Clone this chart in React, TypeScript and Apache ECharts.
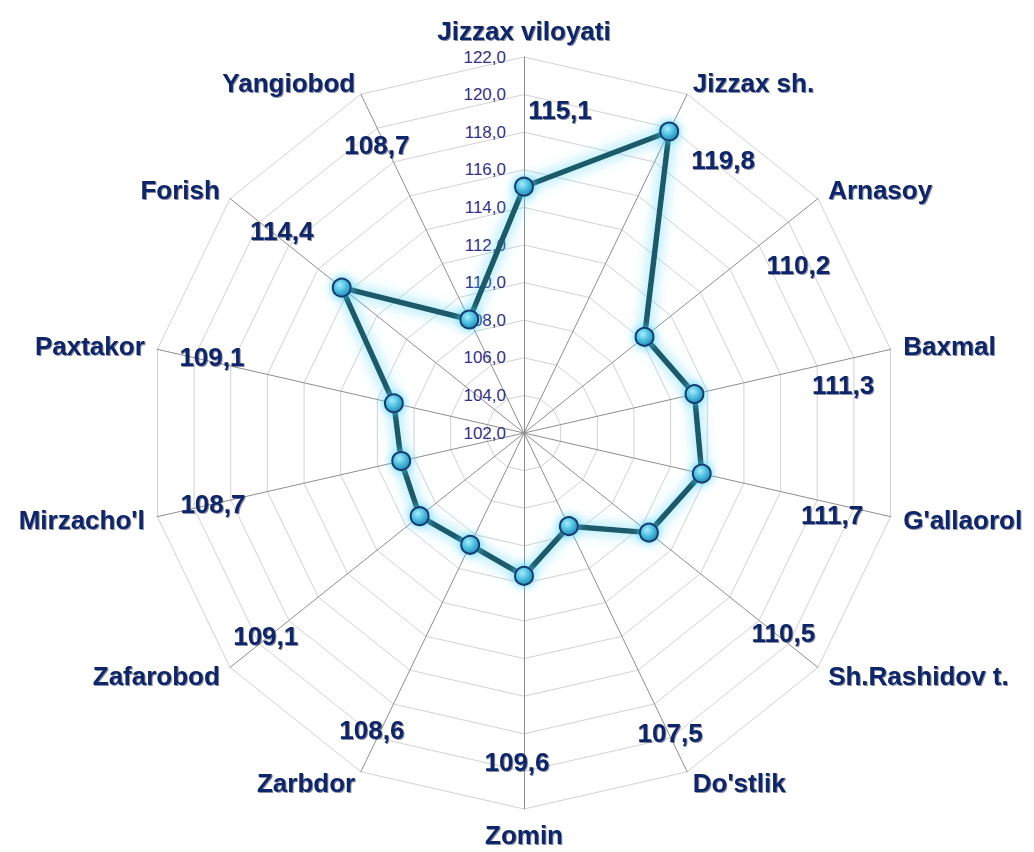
import React, { useEffect, useRef } from "react";
import * as echarts from "echarts";

// clockwise from the top
const INDICATORS = [
  "Jizzax viloyati",
  "Jizzax sh.",
  "Arnasoy",
  "Baxmal",
  "G'allaorol",
  "Sh.Rashidov t.",
  "Do'stlik",
  "Zomin",
  "Zarbdor",
  "Zafarobod",
  "Mirzacho'l",
  "Paxtakor",
  "Forish",
  "Yangiobod",
];
const VALUES = [115.1, 119.8, 110.2, 111.3, 111.7, 110.5, 107.5, 109.6, 108.6, 109.1, 108.7, 109.1, 114.4, 108.7];
const AXIS_MIN = 102;
const AXIS_MAX = 122;
const SPLITS = 10;

// radial level where the value captions sit, and small per-axis nudges (px)
const LABEL_LEVEL = 119.3;
const LABEL_NUDGE = [
  [36, 2], [58, 20], [20, 35], [2, 24], [-9, 10], [5, -3], [5, 7],
  [-7, 4], [-11, 4], [-4, 0], [6, -1], [5, -4], [12, 1], [-6, 5],
];

const FONT = 'Arial, "Liberation Sans", sans-serif';
const NAVY = "#11256a";
const fmt = (v: number) => v.toFixed(1).replace(".", ",");

// ECharts radar runs counter-clockwise: display order keeps the first axis on top
const ORDER = [0, ...INDICATORS.map((_, i) => i).slice(1).reverse()];

export default function App() {
  const ref = useRef<HTMLDivElement>(null);
  useEffect(() => {
    if (!ref.current) return;
    const chart = echarts.init(ref.current, null, { renderer: "svg" });

    const valueStyle = {
      fontFamily: FONT,
      fontSize: 26,
      fontWeight: "bold" as const,
      color: NAVY,
      textShadowColor: "rgba(0,10,60,0.45)",
      textShadowBlur: 1,
      textShadowOffsetX: 1,
      textShadowOffsetY: 1,
    };
    const rich: Record<string, any> = {};
    LABEL_NUDGE.forEach(([dx, dy], i) => {
      rich["n" + i] = {
        ...valueStyle,
        padding: [Math.max(0, 2 * dy), Math.max(0, -2 * dx), Math.max(0, -2 * dy), Math.max(0, 2 * dx)],
      };
    });

    const indicator = ORDER.map((k, d) => {
      const ind: any = { name: INDICATORS[k], min: AXIS_MIN, max: AXIS_MAX };
      if (d === 0) {
        ind.axisLabel = {
          show: true,
          color: "#33308a",
          fontFamily: FONT,
          fontSize: 17,
          margin: 18,
          formatter: (v: number) => fmt(Number(v)),
        };
      }
      return ind;
    });

    chart.setOption({
      animation: false,
      backgroundColor: "#ffffff",
      radar: {
        center: [524, 433],
        radius: 376,
        startAngle: 90,
        shape: "polygon",
        splitNumber: SPLITS,
        indicator,
        axisNameGap: 13,
        axisName: {
          color: NAVY,
          fontFamily: FONT,
          fontSize: 26,
          fontWeight: "bold",
          textShadowColor: "rgba(0,10,60,0.45)",
          textShadowBlur: 1,
          textShadowOffsetX: 1,
          textShadowOffsetY: 1,
        },
        axisLine: { lineStyle: { color: "#8e8e8e", width: 1 } },
        splitLine: { lineStyle: { color: "#d2d2d2", width: 1 } },
        splitArea: { show: false },
        axisTick: { show: false },
        axisLabel: { show: false },
      },
      series: [
        {
          type: "radar",
          silent: true,
          z: 3,
          symbol: "circle",
          symbolSize: 18,
          lineStyle: {
            color: "#1e5a69",
            width: 5.5,
            shadowColor: "rgba(80,210,248,0.95)",
            shadowBlur: 14,
          },
          itemStyle: {
            color: new echarts.graphic.RadialGradient(0.4, 0.35, 0.7, [
              { offset: 0, color: "#a6ecfb" },
              { offset: 0.5, color: "#4dbfe0" },
              { offset: 1, color: "#1f86b4" },
            ]),
            borderColor: "#173a6e",
            borderWidth: 2,
            shadowColor: "rgba(80,210,248,0.9)",
            shadowBlur: 10,
          },
          data: [{ value: ORDER.map((k) => VALUES[k]), name: "Indeks" }],
        },
        {
          type: "radar",
          silent: true,
          z: 4,
          symbol: "circle",
          symbolSize: 1,
          itemStyle: { color: "rgba(0,0,0,0)", borderWidth: 0 },
          lineStyle: { width: 0, opacity: 0 },
          label: {
            show: true,
            position: "inside",
            ...valueStyle,
            rich,
            formatter: (p: any) => {
              const k = ORDER[p.dimensionIndex];
              return `{n${k}|${fmt(VALUES[k])}}`;
            },
          },
          data: [{ value: ORDER.map(() => LABEL_LEVEL), name: "labels" }],
        },
      ],
    });
    return () => chart.dispose();
  }, []);
  return (
    <div
      ref={ref}
      style={{ position: "fixed", left: 0, top: 0, width: 1034, height: 852, background: "#fff" }}
    />
  );
}
